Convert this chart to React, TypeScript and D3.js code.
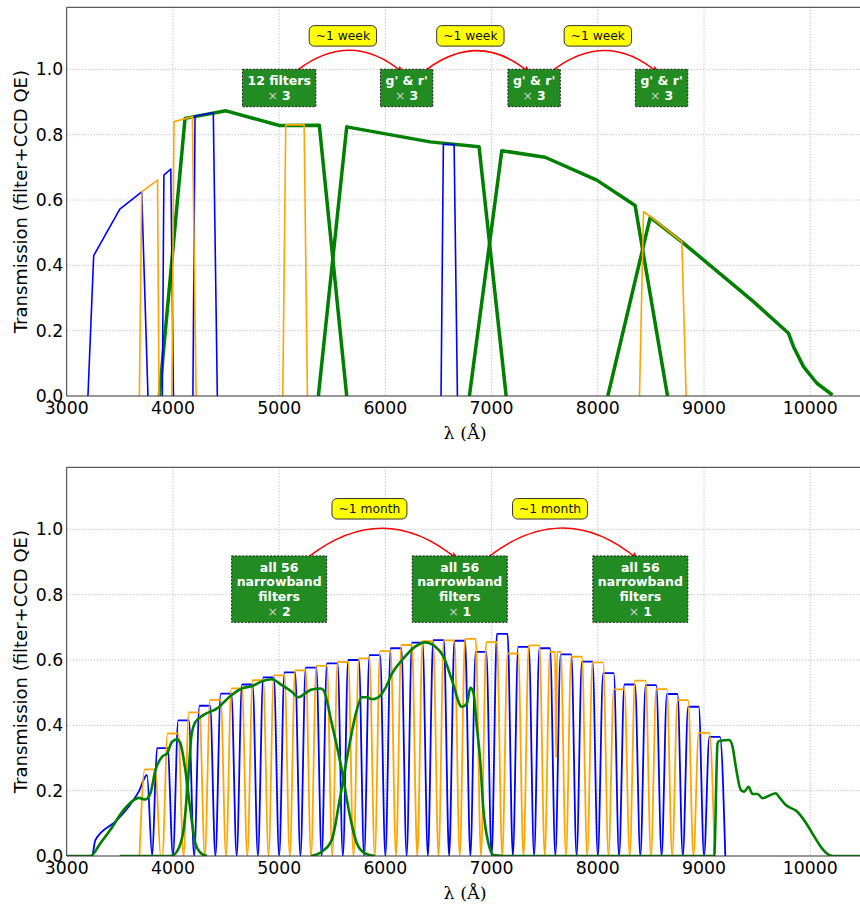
import React from 'react'
import * as d3 from 'd3'

type Pt = [number, number]

// ---------- top panel: broadband filters (wavelength in Å, transmission)
const topBlue: Pt[][] = [
  [[3200, 0], [3254, 0.43], [3500, 0.572], [3706, 0.625], [3765, 0]],
  [[3900, 0], [3915, 0.676], [3980, 0.695], [4005, 0]],
  [[4188, 0], [4208, 0.857], [4380, 0.867], [4418, 0]],
  [[6524, 0], [6546, 0.771], [6647, 0.77], [6678, 0]],
]
const topOrange: Pt[][] = [
  [[3684, 0], [3706, 0.625], [3855, 0.661], [3869, 0]],
  [[3990, 0], [4010, 0.84], [4183, 0.855], [4218, 0]],
  [[5034, 0], [5062, 0.83], [5235, 0.83], [5266, 0]],
  [[8392, 0], [8430, 0.564], [8493, 0.55], [8791, 0.472], [8831, 0]],
]
const topGreen: Pt[][] = [
  [[3872, 0], [4114, 0.85], [4500, 0.873], [5002, 0.828], [5378, 0.829], [5636, 0]],
  [[5369, 0], [5636, 0.824], [6421, 0.778], [6882, 0.763], [7137, 0]],
  [[6791, 0], [7096, 0.751], [7504, 0.731], [7990, 0.661], [8351, 0.583], [8656, 0]],
  [[8094, 0], [8493, 0.547], [8791, 0.472], [9465, 0.289], [9795, 0.192], [9842, 0.151],
    [9936, 0.09], [10062, 0.039], [10209, 0.003]],
]

// ---------- bottom panel: narrowband set
const uBroad: Pt[] = [
  [3000, 0], [3238, 0], [3270, 0.049], [3474, 0.11], [3599, 0.158], [3678, 0.197], [3756, 0.248], [3805, 0],
]
const blueCenters = [3900, 4100, 4300, 4500, 4700, 4900, 5100, 5300, 5500, 5700, 5900, 6100, 6300, 6500,
  6700, 6900, 7100, 7300, 7500, 7700, 7900, 8100, 8300, 8500, 8700, 8900, 9100]
const bluePeaks = [0.33, 0.415, 0.46, 0.497, 0.525, 0.547, 0.562, 0.577, 0.59, 0.6, 0.615, 0.636, 0.653, 0.661,
  0.659, 0.625, 0.68, 0.64, 0.636, 0.617, 0.595, 0.56, 0.525, 0.523, 0.496, 0.457, 0.365]
const orangeCenters = [3785, 4000, 4200, 4400, 4600, 4800, 5000, 5200, 5400, 5600, 5800, 6000, 6200, 6400,
  6600, 6800, 7000, 7200, 7400, 7600, 7800, 8000, 8200, 8400, 8600, 8800, 9000]
const orangePeaks = [0.265, 0.375, 0.44, 0.478, 0.513, 0.538, 0.553, 0.568, 0.582, 0.594, 0.605, 0.627, 0.646,
  0.658, 0.66, 0.665, 0.655, 0.62, 0.645, 0.625, 0.61, 0.593, 0.51, 0.537, 0.511, 0.477, 0.377]
const telluricDips = [{ wl: 7607, t: 0.3 }]

const greenU: Pt[] = [
  [3000, 0], [3223, 0], [3317, 0.039], [3411, 0.08], [3537, 0.141], [3631, 0.171], [3678, 0.178], [3741, 0.173],
  [3788, 0.192], [3835, 0.263], [3898, 0.304], [3945, 0.314], [3992, 0.35], [4039, 0.357], [4070, 0.345],
  [4117, 0.263], [4164, 0.141], [4211, 0.039], [4259, 0.01], [4320, 0],
]
const greenG: Pt[] = [
  [3500, 0], [3980, 0], [4040, 0.015], [4100, 0.08], [4140, 0.22], [4175, 0.37], [4211, 0.41], [4290, 0.432],
  [4416, 0.452], [4541, 0.49], [4648, 0.513], [4742, 0.52], [4836, 0.534], [4930, 0.541], [5025, 0.523],
  [5119, 0.503], [5182, 0.486], [5244, 0.498], [5307, 0.51], [5386, 0.513], [5417, 0.508], [5495, 0.406],
  [5590, 0.263], [5668, 0.12], [5731, 0.039], [5809, 0.008], [5903, 0],
]
const greenR: Pt[] = [
  [5300, 0], [5401, 0.013], [5495, 0.049], [5574, 0.18], [5652, 0.324], [5731, 0.447], [5778, 0.486],
  [5825, 0.486], [5872, 0.48], [5935, 0.486], [5998, 0.513], [6063, 0.559], [6157, 0.6], [6281, 0.641],
  [6375, 0.654], [6469, 0.641], [6548, 0.61], [6626, 0.539], [6720, 0.457], [6767, 0.467], [6800, 0.515],
  [6829, 0.5], [6861, 0.396], [6892, 0.294], [6923, 0.141], [6970, 0.039], [7017, 0.003], [7100, 0],
]
const greenZ: Pt[] = [
  [7000, 0], [9095, 0], [9127, 0.345], [9142, 0.352], [9237, 0.355], [9268, 0.335], [9299, 0.273],
  [9346, 0.202], [9378, 0.197], [9419, 0.212], [9456, 0.19], [9503, 0.19], [9550, 0.177], [9676, 0.192],
  [9707, 0.18], [9770, 0.156], [9864, 0.139], [10210, 0], [10500, 0],
]

const xTicks = [3000, 4000, 5000, 6000, 7000, 8000, 9000, 10000]
const yTicks = [0, 0.2, 0.4, 0.6, 0.8, 1.0]

// annotations (data coordinates)
const topBoxes = [
  { wl: 5000, t: 0.943, lines: ['12 filters'], times: '3' },
  { wl: 6200, t: 0.943, lines: ["g' & r'"], times: '3' },
  { wl: 7400, t: 0.943, lines: ["g' & r'"], times: '3' },
  { wl: 8600, t: 0.943, lines: ["g' & r'"], times: '3' },
]
const topNotes = [
  { wl: 5600, t: 1.1025, text: '~1 week' },
  { wl: 6800, t: 1.1025, text: '~1 week' },
  { wl: 8000, t: 1.1025, text: '~1 week' },
]
const topArrows: [Pt, Pt][] = [
  [[5181, 1.0], [6169, 0.988]],
  [[6390, 1.0], [7362, 0.988]],
  [[7588, 1.0], [8570, 0.988]],
]
const botBoxes = [
  { wl: 5000, t: 0.817, lines: ['all 56', 'narrowband', 'filters'], times: '2' },
  { wl: 6700, t: 0.817, lines: ['all 56', 'narrowband', 'filters'], times: '1' },
  { wl: 8400, t: 0.817, lines: ['all 56', 'narrowband', 'filters'], times: '1' },
]
const botNotes = [
  { wl: 5850, t: 1.063, text: '~1 month' },
  { wl: 7550, t: 1.063, text: '~1 month' },
]
const botArrows: [Pt, Pt][] = [
  [[5285, 0.918], [6678, 0.908]],
  [[6979, 0.918], [8377, 0.908]],
]

// ---------- layout
const W = 860
const H = 904
const X0 = 66.7
const X1 = 863.4
const YSPAN = 388.7
const FONT = 'DejaVu Sans, sans-serif'
const BLUE = '#0000ff'
const ORANGE = '#ffa500'
const GREEN = '#008000'

const x = d3.scaleLinear().domain([3000, 10500]).range([X0, X1])

const ctx = document.createElement('canvas').getContext('2d') as CanvasRenderingContext2D
const textWidth = (s: string, font: string) => {
  ctx.font = font
  return ctx.measureText(s).width
}

// one continuous line per colour through a row of trapezoid-ish filters
const narrowband = (centers: number[], peaks: number[], lead: Pt[] = []): Pt[] => {
  const pts: Pt[] = [...lead]
  centers.forEach((c, i) => {
    const p = peaks[i]
    const shape: Pt[] = [[c - 100, 0], [c - 50, p]]
    telluricDips
      .filter((d) => d.wl > c - 50 && d.wl < c + 50)
      .forEach((d) => shape.push([d.wl - 10, p], [d.wl, d.t], [d.wl + 10, p]))
    shape.push([c + 50, p], [c + 100, 0])
    shape.forEach((pt) => {
      if (!pts.length || pt[0] > pts[pts.length - 1][0]) pts.push(pt)
    })
  })
  return pts
}

const Box = ({ cx, cy, lines, times }: { cx: number; cy: number; lines: string[]; times: string }) => {
  const fs = 12.5
  const lh = 14.5
  const bold = `bold ${fs}px DejaVu Sans`
  const widths = lines.map((l) => textWidth(l, bold))
  widths.push(textWidth('× ', `${fs}px DejaVu Sans`) + textWidth(times, bold))
  const w = Math.max(...widths) + 10
  const n = lines.length + 1
  const h = n * lh + 8.4
  return (
    <g>
      <rect x={cx - w / 2} y={cy - h / 2} width={w} height={h} fill="#228b22"
        stroke="#1a1a1a" strokeWidth={1} strokeDasharray="2 1.5" />
      {lines.map((l, i) => (
        <text key={i} x={cx} y={cy + (i - (n - 1) / 2) * lh} textAnchor="middle" dominantBaseline="central"
          fill="#fff" fontWeight="bold" fontSize={fs} fontFamily={FONT}>
          {l}
        </text>
      ))}
      <text x={cx} y={cy + ((n - 1) / 2) * lh} textAnchor="middle" dominantBaseline="central"
        fontSize={fs} fontFamily={FONT}>
        <tspan fill="#cfcfcf">× </tspan>
        <tspan fill="#fff" fontWeight="bold">{times}</tspan>
      </text>
    </g>
  )
}

const Note = ({ cx, cy, text }: { cx: number; cy: number; text: string }) => {
  const fs = 12.3
  const w = textWidth(text, `${fs}px DejaVu Sans`) + 13
  const h = 20.5
  return (
    <g>
      <rect x={cx - w / 2} y={cy - h / 2} width={w} height={h} rx={5} fill="#ffff00" stroke="#333" strokeWidth={1} />
      <text x={cx} y={cy} textAnchor="middle" dominantBaseline="central" fontSize={fs} fontFamily={FONT} fill="#111">
        {text}
      </text>
    </g>
  )
}

const Panel = ({ bottom, under, over, boxes, notes, arrows, smooth, id }: {
  bottom: number
  under: { pts: Pt[]; color: string; width: number }[]
  over: { pts: Pt[]; color: string; width: number }[]
  boxes: typeof topBoxes
  notes: typeof topNotes
  arrows: [Pt, Pt][]
  smooth: boolean
  id: string
}) => {
  const top = bottom - YSPAN
  const y = d3.scaleLinear().domain([0, 1.19]).range([bottom, top])
  const line = d3.line<Pt>().x((d) => x(d[0])).y((d) => y(d[1]))
  if (smooth) line.curve(d3.curveMonotoneX)
  const arc = ([a, b]: [Pt, Pt]) => {
    const x1 = x(a[0]), y1 = y(a[1]), x2 = x(b[0]), y2 = y(b[1])
    const rad = 0.4
    const cx = (x1 + x2) / 2 + rad * (y2 - y1)
    const cy = (y1 + y2) / 2 - rad * (x2 - x1)
    return `M${x1},${y1}Q${cx},${cy} ${x2},${y2}`
  }
  const draw = (s: { pts: Pt[]; color: string; width: number }, i: number) => (
    <path key={i} d={line(s.pts) ?? ''} fill="none" stroke={s.color} strokeWidth={s.width} strokeLinejoin="round" />
  )
  return (
    <g>
      <defs>
        <clipPath id={`clip-${id}`}>
          <rect x={X0} y={top} width={X1 - X0} height={YSPAN} />
        </clipPath>
      </defs>
      {xTicks.slice(1).map((t) => (
        <line key={t} x1={x(t)} x2={x(t)} y1={top} y2={bottom} stroke="#9a9a9a" strokeWidth={0.8} strokeDasharray="1 2" />
      ))}
      {yTicks.slice(1).map((t) => (
        <line key={t} x1={X0} x2={X1} y1={y(t)} y2={y(t)} stroke="#9a9a9a" strokeWidth={0.8} strokeDasharray="1 2" />
      ))}
      <g clipPath={`url(#clip-${id})`}>
        {under.map(draw)}
        {over.map((s, i) => draw(s, i + 100))}
      </g>
      {arrows.map((a, i) => (
        <path key={i} d={arc(a)} fill="none" stroke="#ff0000" strokeWidth={1.5} markerEnd="url(#arrowhead)" />
      ))}
      {boxes.map((b, i) => (
        <Box key={i} cx={x(b.wl)} cy={y(b.t)} lines={b.lines} times={b.times} />
      ))}
      {notes.map((n, i) => (
        <Note key={i} cx={x(n.wl)} cy={y(n.t)} text={n.text} />
      ))}
      <g stroke="#333" strokeWidth={1} fill="none">
        <line x1={X0} x2={X0} y1={top} y2={bottom} />
        <line x1={X0} x2={X1} y1={top} y2={top} />
        <line x1={X0} x2={X1} y1={bottom} y2={bottom} />
      </g>
      {xTicks.map((t) => (
        <text key={t} x={x(t)} y={bottom + 11.5} textAnchor="middle" dominantBaseline="central"
          fontSize={17.3} fontFamily={FONT} fill="#000">
          {t}
        </text>
      ))}
      {yTicks.map((t) => (
        <text key={t} x={X0 - 3.5} y={y(t)} textAnchor="end" dominantBaseline="central"
          fontSize={17.3} fontFamily={FONT} fill="#000">
          {t.toFixed(1)}
        </text>
      ))}
      <text x={(X0 + X1) / 2} y={bottom + 36.5} textAnchor="middle" dominantBaseline="central"
        fontSize={17.5} fontFamily="DejaVu Serif, serif" fill="#000">
        λ (Å)
      </text>
      <text transform={`translate(20.5 ${(top + bottom) / 2}) rotate(-90)`} textAnchor="middle"
        dominantBaseline="central" fontSize={18} fontFamily={FONT} fill="#000">
        Transmission (filter+CCD QE)
      </text>
    </g>
  )
}

const App = () => {
  const blueLine = narrowband(blueCenters, bluePeaks, uBroad)
  const orangeLine = narrowband(orangeCenters, orangePeaks)
  return (
    <svg width={W} height={H} viewBox={`0 0 ${W} ${H}`}
      style={{ position: 'absolute', left: 0, top: 0, background: '#fff' }}>
      <defs>
        <marker id="arrowhead" viewBox="0 0 10 8" refX={9} refY={4} markerWidth={9} markerHeight={7}
          markerUnits="userSpaceOnUse" orient="auto">
          <path d="M0,0 L10,4 L0,8 L2,4 z" fill="#ff0000" />
        </marker>
      </defs>
      <Panel
        id="top"
        bottom={396}
        smooth={false}
        under={topGreen.map((pts) => ({ pts, color: GREEN, width: 3.5 }))}
        over={[
          ...topBlue.map((pts) => ({ pts, color: BLUE, width: 1.6 })),
          ...topOrange.map((pts) => ({ pts, color: ORANGE, width: 1.6 })),
        ]}
        boxes={topBoxes}
        notes={topNotes}
        arrows={topArrows}
      />
      <Panel
        id="bottom"
        bottom={856}
        smooth={true}
        under={[
          { pts: blueLine, color: BLUE, width: 1.8 },
          { pts: orangeLine, color: ORANGE, width: 1.8 },
        ]}
        over={[greenU, greenG, greenR, greenZ].map((pts) => ({ pts, color: GREEN, width: 2.6 }))}
        boxes={botBoxes}
        notes={botNotes}
        arrows={botArrows}
      />
    </svg>
  )
}

export default App
